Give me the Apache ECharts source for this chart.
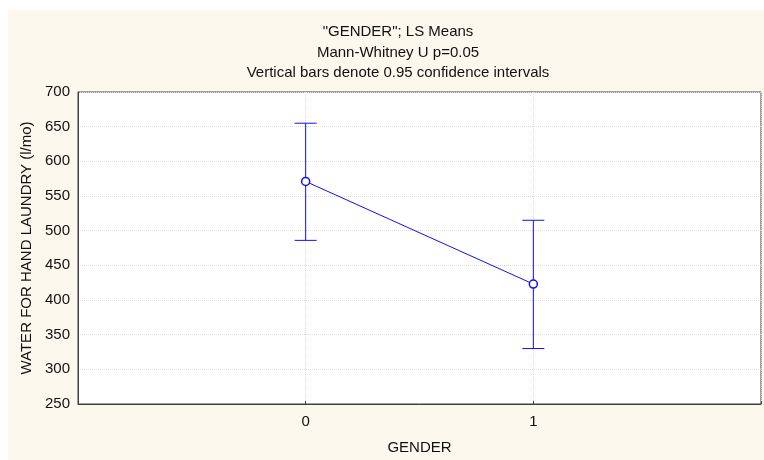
<!DOCTYPE html>
<html>
<head>
<meta charset="utf-8">
<script src="https://cdn.jsdelivr.net/npm/echarts@6/dist/echarts.min.js"></script>
<style>
  html, body { margin: 0; padding: 0; background: #fff; }
  #main { width: 764px; height: 460px; }
</style>
</head>
<body>
<div id="main"></div>
<script>
// LS means per gender with 0.95 confidence intervals
var genders = [0, 1];
var means = [571, 423];
var lower = [486, 330];
var upper = [655, 515];
var yTicks = [250, 300, 350, 400, 450, 500, 550, 600, 650, 700];

var blue = '#1010f0';
var font = '"Liberation Sans", Arial, sans-serif';

var meanData = genders.map(function (g, i) { return [g, means[i]]; });
var ciData = genders.map(function (g, i) { return [g, lower[i], upper[i]]; });

var chart = echarts.init(document.getElementById('main'));

var option = {
  backgroundColor: '#ffffff',
  animation: false,
  graphic: [{
    type: 'rect',
    z: -10,
    silent: true,
    shape: { x: 8, y: 10, width: 760, height: 455 },
    style: { fill: '#fdf8ee' }
  }],
  title: {
    text: '"GENDER"; LS Means\nMann-Whitney U p=0.05\nVertical bars denote 0.95 confidence intervals',
    left: 393,
    top: 17,
    textAlign: 'center',
    textStyle: {
      fontFamily: font,
      fontSize: 15,
      fontWeight: 'normal',
      color: '#111',
      lineHeight: 20.5
    }
  },
  grid: {
    left: 78,
    right: 2,
    top: 92,
    bottom: 56,
    show: true,
    backgroundColor: '#ffffff',
    borderColor: '#404040',
    borderWidth: 1
  },
  xAxis: {
    type: 'value',
    min: -1,
    max: 2,
    interval: 1,
    name: 'GENDER',
    nameLocation: 'middle',
    nameGap: 36,
    nameTextStyle: { fontFamily: font, fontSize: 15, color: '#111' },
    axisLine: { onZero: false, lineStyle: { color: '#404040' } },
    axisTick: { inside: true, length: 3, lineStyle: { color: '#404040' } },
    axisLabel: {
      fontFamily: font, fontSize: 15, color: '#111', margin: 10,
      formatter: function (v) { return genders.indexOf(v) >= 0 ? String(v) : ''; }
    },
    splitLine: { show: true, lineStyle: { color: '#dcdcdc', type: 'dotted' } }
  },
  yAxis: {
    type: 'value',
    min: yTicks[0],
    max: yTicks[yTicks.length - 1],
    interval: 50,
    name: 'WATER FOR HAND LAUNDRY (l/mo)',
    nameLocation: 'middle',
    nameRotate: 90,
    nameGap: 41,
    nameTextStyle: { fontFamily: font, fontSize: 15, color: '#111' },
    axisLine: { show: true, onZero: false, lineStyle: { color: '#404040' } },
    axisTick: { show: false },
    axisLabel: { fontFamily: font, fontSize: 15, color: '#111', margin: 8 },
    splitLine: { show: true, lineStyle: { color: '#dcdcdc', type: 'dotted' } }
  },
  series: [
    {
      type: 'custom',
      data: ciData,
      z: 2,
      renderItem: function (params, api) {
        var x = api.value(0);
        var lo = api.coord([x, api.value(1)]);
        var hi = api.coord([x, api.value(2)]);
        var half = 11;
        var st = { stroke: blue, lineWidth: 1 };
        return {
          type: 'group',
          children: [
            { type: 'line', shape: { x1: lo[0], y1: lo[1], x2: hi[0], y2: hi[1] }, style: st },
            { type: 'line', shape: { x1: lo[0] - half, y1: lo[1], x2: lo[0] + half, y2: lo[1] }, style: st },
            { type: 'line', shape: { x1: hi[0] - half, y1: hi[1], x2: hi[0] + half, y2: hi[1] }, style: st }
          ]
        };
      }
    },
    {
      type: 'line',
      data: meanData,
      z: 3,
      symbol: 'circle',
      symbolSize: 8,
      lineStyle: { color: blue, width: 1 },
      itemStyle: { color: '#ffffff', borderColor: blue, borderWidth: 1.5 }
    }
  ]
};

chart.setOption(option);
</script>
</body>
</html>
